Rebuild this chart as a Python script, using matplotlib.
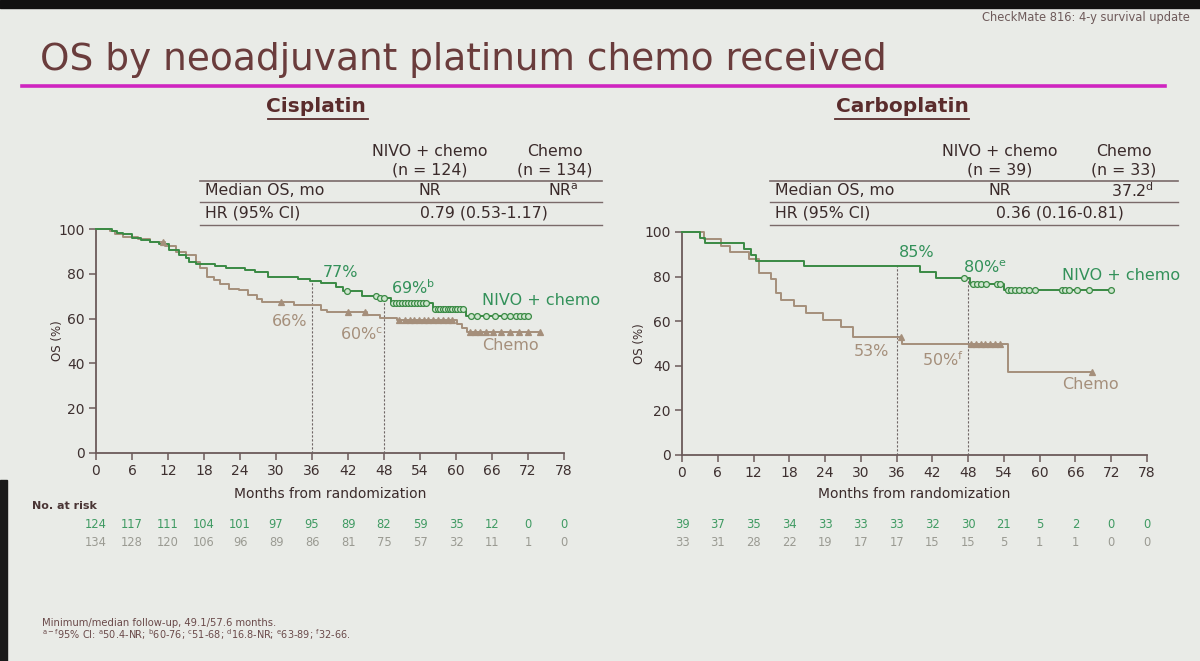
import numpy as np
import matplotlib
matplotlib.use('Agg')
import matplotlib.pyplot as plt
from matplotlib.transforms import blended_transform_factory
from matplotlib.patches import Rectangle
from matplotlib.lines import Line2D

plt.rcParams['font.family'] = ['DejaVu Sans']

W, H = 1200, 661
BG = '#e9ebe7'
GREEN = '#3a8a44'
GREEN_T = '#33915a'
TAUPE = '#a58f7b'
TEXT = '#3b2b2b'
TITLE_C = '#6a3c3c'
AXC = '#6b5a5a'
RISK_G = '#3f9a62'
RISK_T = '#9a9a92'

# ---------------- data ----------------
month_ticks = list(range(0, 79, 6))
os_ticks = [0, 20, 40, 60, 80, 100]
landmarks = [36, 48]

# Cisplatin, NIVO + chemo (n = 124)
cis_nivo_t = [0, 2.6, 3.5, 4.5, 6.0, 7.5, 9.0, 10.5, 12.2, 13.9, 15.0, 15.5, 16.6, 19.9,
              21.6, 24.9, 26.5, 28.7, 33.7, 35.6, 37.5, 40.0, 41.2, 44.3, 46.8, 49.1, 56.1, 61.7]
cis_nivo_s = [100, 99.2, 98.4, 97.6, 96.0, 95.2, 94.4, 93.5, 90.6, 88.4, 86.9, 85.4, 84.3, 83.5,
              82.4, 81.6, 80.6, 78.7, 77.6, 77.0, 75.7, 74.2, 72.1, 69.9, 69.0, 66.8, 64.1, 61.0]
cis_nivo_end = 72.0
cis_nivo_cens = [41.8, 46.6, 47.3, 48.0, 49.5, 50.0, 50.5, 51.0, 51.5, 52.0, 52.5, 53.0, 53.5,
                 54.0, 54.5, 55.0, 56.5, 57.0, 57.4, 57.8, 58.2, 58.6, 59.0, 59.4, 59.8, 60.2,
                 60.6, 61.2, 62.5, 63.5, 65.0, 66.5, 68.0, 69.0, 70.0, 70.7, 71.3, 72.0]

# Cisplatin, Chemo (n = 134)
cis_chemo_t = [0, 2.3, 3.2, 4.5, 7.0, 9.0, 11.5, 13.3, 15.0, 16.6, 17.4, 18.5, 19.6, 20.7,
               22.1, 23.8, 25.4, 26.8, 27.6, 33.0, 37.5, 38.5, 45.1, 47.4, 50.2, 60.2, 61.0, 61.9]
cis_chemo_s = [100, 99.2, 97.8, 96.3, 95.5, 94.0, 92.5, 89.9, 88.4, 85.4, 82.4, 78.7, 77.2, 75.4,
               73.4, 72.7, 70.4, 68.9, 67.2, 66.0, 64.0, 62.8, 61.8, 60.3, 59.2, 57.5, 56.0, 54.0]
cis_chemo_end = 74.0
cis_chemo_cens = [11.2, 30.9, 42.0, 44.8, 50.5, 51.5, 52.3, 53.0, 53.8, 54.6, 55.4, 56.2, 57.0,
                  57.8, 58.6, 59.4, 62.3, 63.2, 64.0, 65.0, 66.2, 67.5, 69.0, 70.5, 72.0, 74.0]

# Carboplatin, NIVO + chemo (n = 39)
carbo_nivo_t = [0, 3.1, 3.9, 10.4, 11.5, 12.4, 20.5, 40.0, 42.6, 48.3, 54.0]
carbo_nivo_s = [100, 97.4, 94.9, 92.3, 89.7, 87.2, 84.6, 82.0, 79.5, 76.8, 73.9]
carbo_nivo_end = 72.0
carbo_nivo_cens = [47.3, 48.8, 49.5, 50.2, 51.0, 52.8, 53.3, 54.6, 55.2, 55.8, 56.5, 57.3,
                   58.2, 59.2, 63.8, 64.3, 64.9, 66.2, 68.2, 72.0]

# Carboplatin, Chemo (n = 33)
carbo_chemo_t = [0, 3.7, 6.5, 8.1, 11.2, 12.9, 14.9, 15.7, 16.6, 18.8, 20.8, 23.6, 26.7, 28.7, 36.9, 54.7]
carbo_chemo_s = [100, 97.0, 93.9, 90.9, 87.9, 81.8, 78.8, 72.7, 69.7, 66.7, 63.6, 60.6, 57.6, 53.0, 49.7, 37.3]
carbo_chemo_end = 68.7
carbo_chemo_cens = [36.8, 48.5, 49.3, 50.1, 50.9, 51.7, 52.5, 53.3, 68.7]

cis_land_nivo = [77, 69]
cis_land_chemo = [66, 60]
carbo_land_nivo = [85, 80]
carbo_land_chemo = [53, 50]

cis_risk_nivo = [124, 117, 111, 104, 101, 97, 95, 89, 82, 59, 35, 12, 0, 0]
cis_risk_chemo = [134, 128, 120, 106, 96, 89, 86, 81, 75, 57, 32, 11, 1, 0]
carbo_risk_nivo = [39, 37, 35, 34, 33, 33, 33, 32, 30, 21, 5, 2, 0, 0]
carbo_risk_chemo = [33, 31, 28, 22, 19, 17, 17, 15, 15, 5, 1, 1, 0, 0]

# ---------------- figure ----------------
fig = plt.figure(figsize=(W / 100, H / 100), dpi=100, facecolor=BG)

def fx(x):
    return x / W

def fy(y):
    return 1 - y / H

def ftext(x, y, s, **kw):
    kw.setdefault('color', TEXT)
    kw.setdefault('va', 'center')
    fig.text(fx(x), fy(y), s, **kw)

def fline(x0, x1, y, **kw):
    fig.add_artist(Line2D([fx(x0), fx(x1)], [fy(y), fy(y)], transform=fig.transFigure, **kw))

# photo edges
fig.add_artist(Rectangle((0, fy(8)), 1, 8 / H, transform=fig.transFigure, color='#111111', zorder=0))
fig.add_artist(Rectangle((0, 0), 7 / W, fy(480), transform=fig.transFigure, color='#1a1a1a', zorder=0))

# header
ftext(1190, 17, 'CheckMate 816: 4-y survival update', ha='right', fontsize=8.3, color='#6e5a5a')
ftext(40, 60, 'OS by neoadjuvant platinum chemo received', ha='left', fontsize=27,
      color=TITLE_C, fontweight='normal')
fline(22, 1165, 86, color='#cf25c0', lw=2.6)

ftext(316, 107, 'Cisplatin', ha='center', fontsize=14.5, fontweight='bold', color='#5a2c2c')
fline(268, 368, 119, color='#5a2c2c', lw=1.3)
ftext(902, 107, 'Carboplatin', ha='center', fontsize=14.5, fontweight='bold', color='#5a2c2c')
fline(835, 969, 119, color='#5a2c2c', lw=1.3)

TFS = 11.3

def summary_table(x0, x1, c1, c2, n1, n2, med1, med2, hr, hrx):
    ftext(c1, 152, 'NIVO + chemo', ha='center', fontsize=TFS)
    ftext(c1, 170, n1, ha='center', fontsize=TFS)
    ftext(c2, 152, 'Chemo', ha='center', fontsize=TFS)
    ftext(c2, 170, n2, ha='center', fontsize=TFS)
    fline(x0, x1, 181, color='#7a6a6a', lw=1.2)
    ftext(x0 + 5, 191, 'Median OS, mo', ha='left', fontsize=TFS)
    ftext(c1, 191, med1, ha='center', fontsize=TFS)
    ftext(c2 + 8, 191, med2, ha='center', fontsize=TFS)
    fline(x0, x1, 202, color='#7a6a6a', lw=1.0)
    ftext(x0 + 5, 213, 'HR (95% CI)', ha='left', fontsize=TFS)
    ftext(hrx, 213, hr, ha='center', fontsize=TFS)
    fline(x0, x1, 225, color='#7a6a6a', lw=1.0)

summary_table(200, 602, 430, 555, '(n = 124)', '(n = 134)', 'NR', r'NR$^\mathrm{a}$',
              '0.79 (0.53-1.17)', 484)
summary_table(770, 1178, 1000, 1124, '(n = 39)', '(n = 33)', 'NR', r'37.2$^\mathrm{d}$',
              '0.36 (0.16-0.81)', 1060)

def km(ax, t, s, end, cens, color, marker, mfc, ms):
    tt = list(t) + [end]
    ss = list(s) + [s[-1]]
    ax.step(tt, ss, where='post', color=color, lw=1.4, zorder=4, clip_on=False)
    idx = np.searchsorted(np.asarray(t), np.asarray(cens), side='right') - 1
    cy = np.asarray(s)[idx]
    ax.plot(cens, cy, ls='none', marker=marker, ms=ms, mfc=mfc, mec=color, mew=0.9,
            zorder=5, clip_on=False)

def panel(rect, data, land_n, land_c, labels, risk_n, risk_c, ylab_x, xlab_y):
    ax = fig.add_axes(rect)
    ax.set_facecolor('none')
    ax.set_xlim(0, 78)
    ax.set_ylim(0, 100)
    for sp in ['top', 'right']:
        ax.spines[sp].set_visible(False)
    for sp in ['left', 'bottom']:
        ax.spines[sp].set_color(AXC)
        ax.spines[sp].set_linewidth(1.3)
    ax.set_xticks(month_ticks)
    ax.set_yticks(os_ticks)
    ax.tick_params(colors=AXC, labelcolor='#3e3030', labelsize=10, length=5, width=1.1, pad=3)
    (nt, ns, ne, nc), (ct, cs, ce, cc) = data
    km(ax, ct, cs, ce, cc, TAUPE, '^', TAUPE, 4.2)
    km(ax, nt, ns, ne, nc, GREEN, 'o', '#cfe5cf', 4.2)
    for m, v in zip(landmarks, land_n):
        ax.plot([m, m], [0, v], color='#6e6464', lw=0.8, ls=(0, (2, 1.6)), zorder=3)
    for (x, y, s, c, ha) in labels:
        ax.text(x, y, s, color=c, fontsize=11.5, ha=ha, va='center', zorder=6)
    tr = blended_transform_factory(ax.transData, fig.transFigure)
    for m, a, b in zip(month_ticks, risk_n, risk_c):
        ax.text(m, fy(524), str(a), transform=tr, ha='center', va='center', fontsize=8.3, color=RISK_G)
        ax.text(m, fy(543), str(b), transform=tr, ha='center', va='center', fontsize=8.3, color=RISK_T)
    ax.text(39, fy(xlab_y), 'Months from randomization', transform=tr, ha='center', va='center',
            fontsize=10, color=TEXT)
    ftext(ylab_x, (1 - rect[1] - rect[3] / 2) * H, 'OS (%)',
          rotation=90, ha='center', fontsize=8.5)
    return ax

cis_labels = [
    (40.7, 80.8, '77%', GREEN_T, 'center'),
    (52.8, 73.7, r'69%$^\mathrm{b}$', GREEN_T, 'center'),
    (32.3, 58.5, '66%', TAUPE, 'center'),
    (44.3, 53.0, r'60%$^\mathrm{c}$', TAUPE, 'center'),
    (64.3, 68.3, 'NIVO + chemo', GREEN_T, 'left'),
    (64.3, 47.8, 'Chemo', TAUPE, 'left'),
]
carbo_labels = [
    (39.4, 90.6, '85%', GREEN_T, 'center'),
    (50.8, 83.9, r'80%$^\mathrm{e}$', GREEN_T, 'center'),
    (31.8, 46.2, '53%', TAUPE, 'center'),
    (43.7, 42.6, r'50%$^\mathrm{f}$', TAUPE, 'center'),
    (63.7, 80.3, 'NIVO + chemo', GREEN_T, 'left'),
    (63.7, 31.8, 'Chemo', TAUPE, 'left'),
]

rect_l = [96 / W, 1 - 453 / H, 468 / W, 224 / H]
rect_r = [682 / W, 1 - 455 / H, 465 / W, 223 / H]

panel(rect_l,
      ((cis_nivo_t, cis_nivo_s, cis_nivo_end, cis_nivo_cens),
       (cis_chemo_t, cis_chemo_s, cis_chemo_end, cis_chemo_cens)),
      cis_land_nivo, cis_land_chemo, cis_labels, cis_risk_nivo, cis_risk_chemo, 58, 494)
panel(rect_r,
      ((carbo_nivo_t, carbo_nivo_s, carbo_nivo_end, carbo_nivo_cens),
       (carbo_chemo_t, carbo_chemo_s, carbo_chemo_end, carbo_chemo_cens)),
      carbo_land_nivo, carbo_land_chemo, carbo_labels, carbo_risk_nivo, carbo_risk_chemo, 640, 494)

ftext(32, 506, 'No. at risk', ha='left', fontsize=8, fontweight='bold', color='#4a3535')

ftext(42, 623, 'Minimum/median follow-up, 49.1/57.6 months.', ha='left', fontsize=7.2, color='#6a4a4a')
ftext(42, 635, r'$^\mathrm{a-f}$95% CI: $^\mathrm{a}$50.4-NR; $^\mathrm{b}$60-76; $^\mathrm{c}$51-68; '
      r'$^\mathrm{d}$16.8-NR; $^\mathrm{e}$63-89; $^\mathrm{f}$32-66.', ha='left', fontsize=7.0,
      color='#6a4a4a')

fig.savefig('out.png', dpi=100, facecolor=BG)
